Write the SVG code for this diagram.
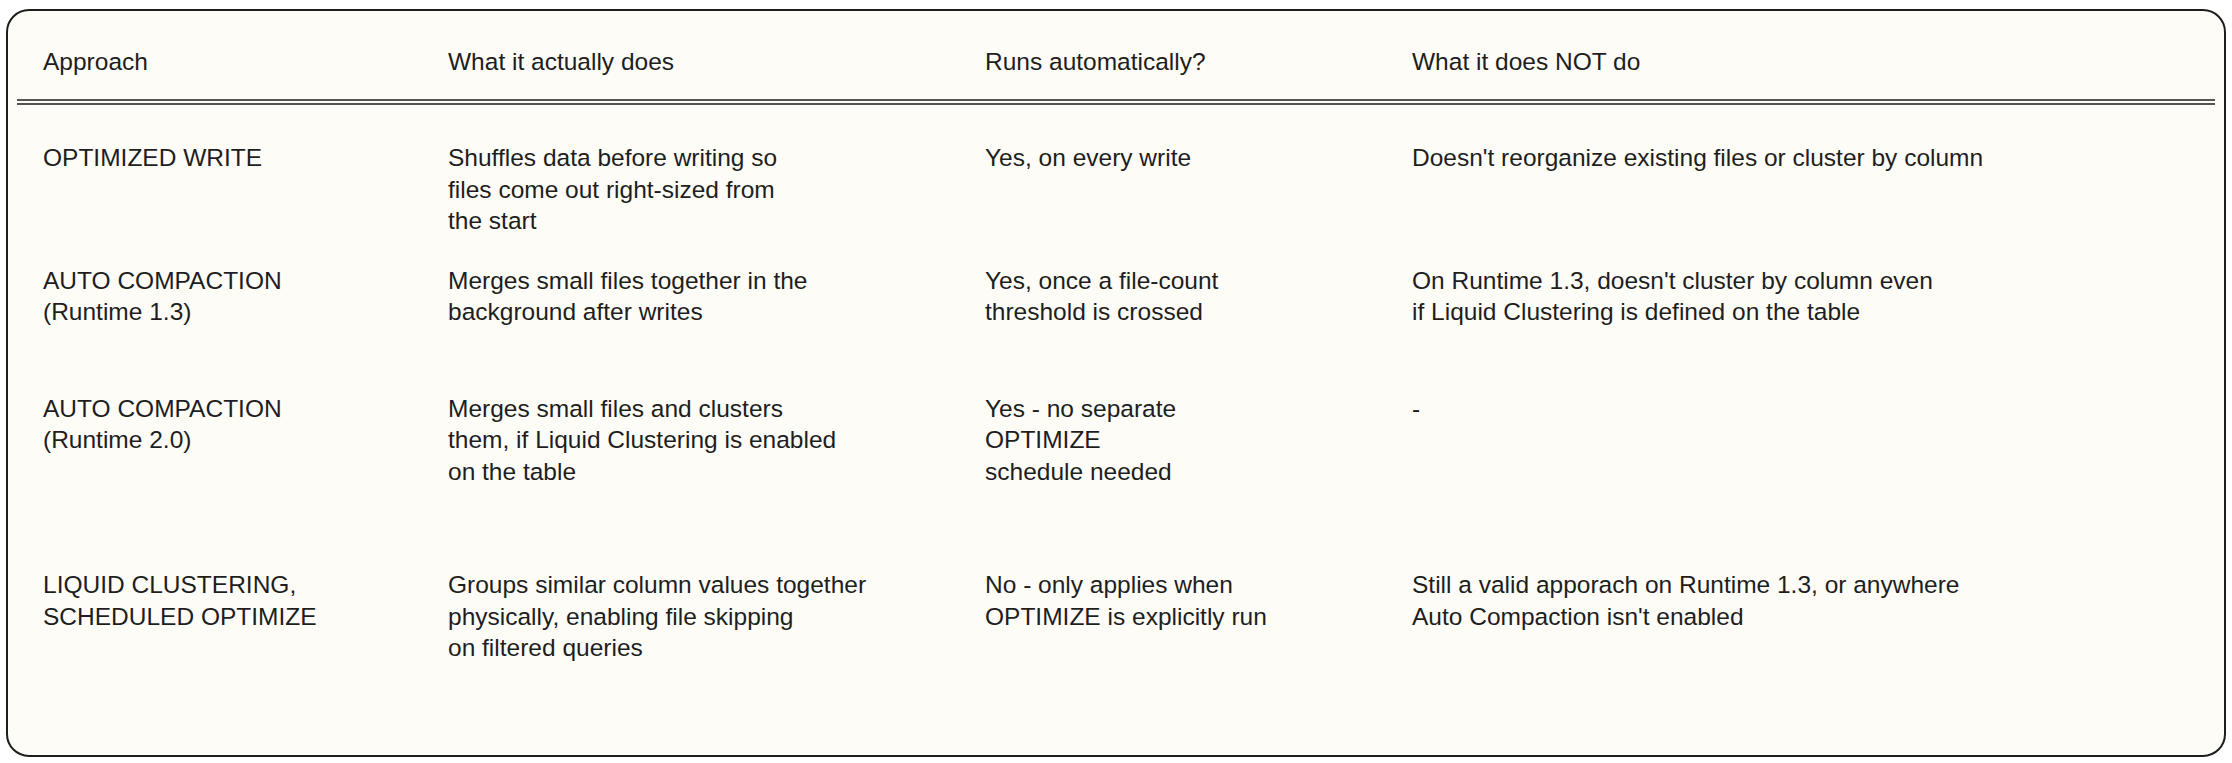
<svg xmlns="http://www.w3.org/2000/svg" width="2232" height="763" viewBox="0 0 2232 763">
<style>
text{font-family:"Liberation Sans",Arial,sans-serif;font-size:24.5px;fill:#1e1e1e}
.ln{stroke:#1e1e1e;stroke-width:1.6;fill:none}
</style>
<rect width="2232" height="763" fill="#ffffff"/>
<g id="table">
<rect x="7" y="10" width="2218" height="746" rx="22" fill="#fdfcf7" stroke="#1e1e1e" stroke-width="2"/>
<line class="ln" x1="17" y1="100" x2="2215" y2="100"/>
<line class="ln" x1="17" y1="104" x2="2215" y2="104"/>
</g>
<g id="header" transform="translate(0,3)">
<text x="43" y="67">Approach</text>
<text x="448" y="67">What it actually does</text>
<text x="985" y="67">Runs automatically?</text>
<text x="1412" y="67">What it does NOT do</text>
</g>
<g id="row1" transform="translate(0,4)">
<text x="43" y="162">OPTIMIZED WRITE</text>
<text x="448" y="162">Shuffles data before writing so</text>
<text x="448" y="194">files come out right-sized from</text>
<text x="448" y="225">the start</text>
<text x="985" y="162">Yes, on every write</text>
<text x="1412" y="162">Doesn't reorganize existing files or cluster by column</text>
</g>
<g id="row2" transform="translate(0,4)">
<text x="43" y="285">AUTO COMPACTION</text>
<text x="43" y="316">(Runtime 1.3)</text>
<text x="448" y="285">Merges small files together in the</text>
<text x="448" y="316">background after writes</text>
<text x="985" y="285">Yes, once a file-count</text>
<text x="985" y="316">threshold is crossed</text>
<text x="1412" y="285">On Runtime 1.3, doesn't cluster by column even</text>
<text x="1412" y="316">if Liquid Clustering is defined on the table</text>
</g>
<g id="row3" transform="translate(0,4)">
<text x="43" y="413">AUTO COMPACTION</text>
<text x="43" y="444">(Runtime 2.0)</text>
<text x="448" y="413">Merges small files and clusters</text>
<text x="448" y="444">them, if Liquid Clustering is enabled</text>
<text x="448" y="476">on the table</text>
<text x="985" y="413">Yes - no separate</text>
<text x="985" y="444">OPTIMIZE</text>
<text x="985" y="476">schedule needed</text>
<text x="1412" y="413">-</text>
</g>
<g id="row4" transform="translate(0,4)">
<text x="43" y="589">LIQUID CLUSTERING,</text>
<text x="43" y="621">SCHEDULED OPTIMIZE</text>
<text x="448" y="589">Groups similar column values together</text>
<text x="448" y="621">physically, enabling file skipping</text>
<text x="448" y="652">on filtered queries</text>
<text x="985" y="589">No - only applies when</text>
<text x="985" y="621">OPTIMIZE is explicitly run</text>
<text x="1412" y="589">Still a valid apporach on Runtime 1.3, or anywhere</text>
<text x="1412" y="621">Auto Compaction isn't enabled</text>
</g>
</svg>
